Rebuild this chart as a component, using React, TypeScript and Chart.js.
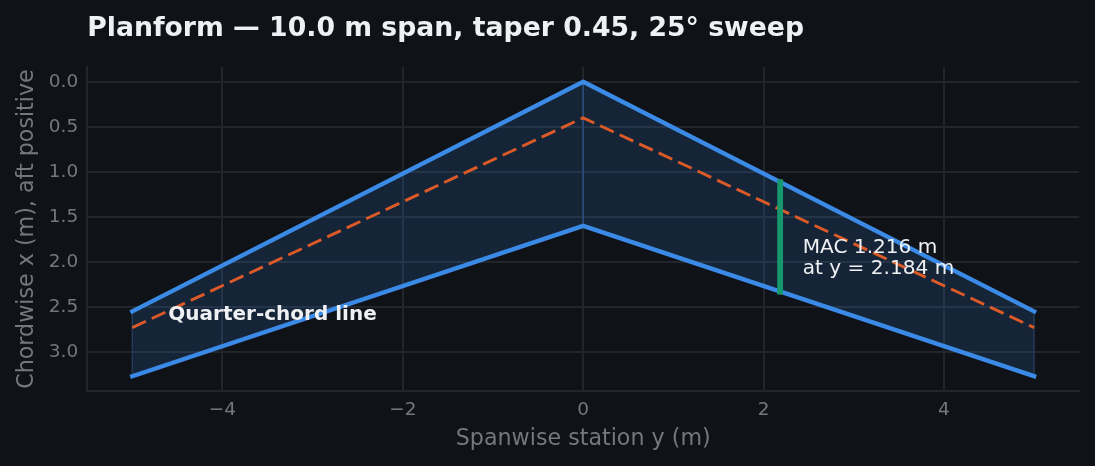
import React, { useEffect, useRef } from "react";
import { Chart, registerables } from "chart.js";

Chart.register(...registerables);

const spanStations = [-5, 0, 5];
const leadingEdge = [2.55, 0, 2.55];
const trailingEdge = [3.27, 1.6, 3.27];
const quarterChord = [2.73, 0.4, 2.73];
const macStation = [2.184, 2.184];
const macChord = [1.114, 2.33];
const xTicks = [-4, -2, 0, 2, 4];
const yTicks = [0, 0.5, 1, 1.5, 2, 2.5, 3];
const titleText = "Planform — 10.0 m span, taper 0.45, 25° sweep";
const xTitle = "Spanwise station y (m)";
const yTitle = "Chordwise x (m), aft positive";
const macLabels = ["MAC 1.216 m", "at y = 2.184 m"];
const quarterLabel = "Quarter-chord line";

const FONT = '"DejaVu Sans"';
const BG = "#0f1216";
const GRID = "#22262c";
const MUTED = "#74787e";
const TEXT = "#eef0f3";
const BLUE = "#3a8ae6";

const pts = (xs: number[], ys: number[]) => xs.map((x, i) => ({ x, y: ys[i] }));

const labelsPlugin = {
  id: "labels",
  afterDatasetsDraw(chart: any) {
    const { ctx, scales } = chart;
    ctx.save();
    ctx.fillStyle = TEXT;
    ctx.textAlign = "left";
    ctx.textBaseline = "alphabetic";
    ctx.font = `20.1px ${FONT}`;
    const mx = scales.x.getPixelForValue(2.434);
    ctx.fillText(macLabels[0], mx, scales.y.getPixelForValue(1.9));
    ctx.fillText(macLabels[1], mx, scales.y.getPixelForValue(2.14));
    ctx.font = `bold 20px ${FONT}`;
    ctx.fillText(quarterLabel, scales.x.getPixelForValue(-4.6), scales.y.getPixelForValue(2.65));
    ctx.restore();
  },
};

export default function App() {
  const ref = useRef<HTMLCanvasElement>(null);
  useEffect(() => {
    document.body.style.margin = "0";
    document.body.style.background = BG;
    const edge = (x: number, i: number, color: string) => ({
      type: "scatter" as const,
      data: pts([x, x], [leadingEdge[i], trailingEdge[i]]),
      showLine: true,
      borderColor: color,
      borderWidth: 1.5,
      pointRadius: 0,
      fill: false,
      order: 6,
    });
    const chart = new Chart(ref.current!, {
      type: "scatter",
      data: {
        datasets: [
          {
            label: "Leading edge",
            data: pts(spanStations, leadingEdge),
            showLine: true,
            borderColor: BLUE,
            borderWidth: 4.4,
            borderCapStyle: "square",
            borderJoinStyle: "round",
            pointRadius: 0,
            fill: { target: "+1", above: "rgba(58,138,230,0.16)", below: "rgba(58,138,230,0.16)" },
            order: 3,
          },
          {
            label: "Trailing edge",
            data: pts(spanStations, trailingEdge),
            showLine: true,
            borderColor: BLUE,
            borderWidth: 4.4,
            borderCapStyle: "square",
            borderJoinStyle: "round",
            pointRadius: 0,
            fill: false,
            order: 3,
          },
          {
            label: "Quarter chord",
            data: pts(spanStations, quarterChord),
            showLine: true,
            borderColor: "#dc5a28",
            borderWidth: 2.9,
            borderDash: [15, 6.5],
            borderJoinStyle: "round",
            pointRadius: 0,
            fill: false,
            order: 2,
          },
          {
            label: "MAC",
            data: pts(macStation, macChord),
            showLine: true,
            borderColor: "#17996d",
            borderWidth: 5.8,
            borderCapStyle: "square",
            pointRadius: 0,
            fill: false,
            order: 1,
          },
          edge(spanStations[0], 0, "#23364e"),
          edge(spanStations[1], 1, "#264369"),
          edge(spanStations[2], 2, "#23364e"),
        ] as any,
      },
      plugins: [labelsPlugin],
      options: {
        animation: false,
        responsive: false,
        devicePixelRatio: 1,
        layout: { padding: { left: 0, right: 15.8, top: 0, bottom: 0 } },
        plugins: {
          legend: { display: false },
          tooltip: { enabled: false },
          title: {
            display: true,
            text: titleText,
            align: "start",
            fullSize: false,
            color: TEXT,
            font: { family: FONT, size: 26.7, weight: "bold" },
            padding: { top: 13, bottom: 22 },
          },
        },
        scales: {
          x: {
            type: "linear",
            min: -5.5,
            max: 5.5,
            afterFit: (s: any) => { s.height = 75; },
            afterBuildTicks: (s: any) => { s.ticks = xTicks.map((value) => ({ value })); },
            ticks: {
              color: MUTED,
              font: { family: FONT, size: 18.5 },
              padding: 8,
              maxRotation: 0,
              callback: (v: any) => String(v).replace("-", "\u2212"),
            },
            grid: { color: GRID, lineWidth: 2, drawTicks: false },
            border: { color: GRID, width: 2 },
            title: {
              display: true,
              text: xTitle,
              color: MUTED,
              font: { family: FONT, size: 22.2 },
              padding: { top: 6, bottom: 13 },
            },
          },
          y: {
            type: "linear",
            reverse: true,
            min: -0.164,
            max: 3.434,
            afterFit: (s: any) => { s.width = 87.2; },
            afterBuildTicks: (s: any) => { s.ticks = yTicks.map((value) => ({ value })); },
            ticks: {
              color: MUTED,
              font: { family: FONT, size: 18.5 },
              padding: 9,
              callback: (v: any) => Number(v).toFixed(1),
            },
            grid: { color: GRID, lineWidth: 2, drawTicks: false },
            border: { color: GRID, width: 2 },
            title: {
              display: true,
              text: yTitle,
              color: MUTED,
              font: { family: FONT, size: 22.2 },
              padding: { top: 14, bottom: 4 },
            },
          },
        },
      },
    });
    return () => chart.destroy();
  }, []);
  return (
    <div style={{ width: 1095, height: 466, background: BG }}>
      <canvas ref={ref} width={1095} height={466} style={{ display: "block" }} />
    </div>
  );
}
